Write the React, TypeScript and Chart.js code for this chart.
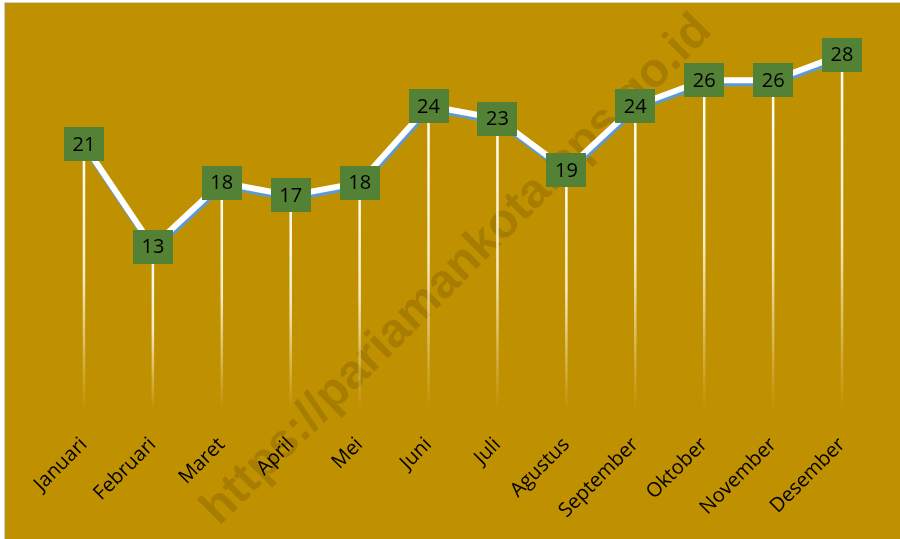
import React, { useEffect, useRef } from "react";
import { Chart, registerables } from "chart.js";

Chart.register(...registerables);

const months = [
  "Januari", "Februari", "Maret", "April", "Mei", "Juni",
  "Juli", "Agustus", "September", "Oktober", "November", "Desember",
];
const values = [21, 13, 18, 17, 18, 24, 23, 19, 24, 26, 26, 28];
const watermarkText = "https://pariamankota.bps.go.id";

const GOLD = "#BF9000";
const GREEN = "#538135";
const BLUE = "#5B9BD5";

const framePlugin = {
  id: "frame",
  beforeDraw(chart: any) {
    const { ctx, width, height } = chart;
    ctx.save();
    ctx.fillStyle = "#ffffff";
    ctx.fillRect(0, 0, width, height);
    ctx.fillStyle = GOLD;
    ctx.fillRect(5, 3, width - 5, height - 3);
    ctx.strokeStyle = "#d0d0d0";
    ctx.lineWidth = 1;
    ctx.beginPath();
    ctx.moveTo(4.5, height);
    ctx.lineTo(4.5, 2.5);
    ctx.lineTo(width, 2.5);
    ctx.stroke();
    // watermark
    ctx.translate(457, 270);
    ctx.rotate(-Math.PI / 4);
    ctx.font = "bold 48px 'Liberation Sans', Arial, sans-serif";
    ctx.textAlign = "center";
    ctx.textBaseline = "middle";
    ctx.fillStyle = "rgba(0,0,0,0.13)";
    ctx.fillText(watermarkText, 0, 0);
    ctx.restore();
  },
  beforeDatasetsDraw(chart: any) {
    const { ctx, chartArea } = chart;
    const meta = chart.getDatasetMeta(0);
    ctx.save();
    const bottom = chartArea.bottom - 3;
    meta.data.forEach((pt: any) => {
      const g = ctx.createLinearGradient(0, pt.y, 0, bottom);
      g.addColorStop(0, "rgba(255,255,255,1)");
      g.addColorStop(0.5, "rgba(255,246,220,0.9)");
      g.addColorStop(1, "rgba(255,240,200,0)");
      ctx.strokeStyle = g;
      ctx.lineWidth = 2.5;
      ctx.beginPath();
      ctx.moveTo(pt.x, pt.y);
      ctx.lineTo(pt.x, bottom);
      ctx.stroke();
    });
    ctx.restore();
  },
  beforeDatasetDraw(chart: any) {
    const ctx = chart.ctx;
    ctx.save();
    ctx.shadowColor = BLUE;
    ctx.shadowOffsetX = 1;
    ctx.shadowOffsetY = 3;
    ctx.shadowBlur = 0;
  },
  afterDatasetDraw(chart: any) {
    chart.ctx.restore();
  },
  afterDatasetsDraw(chart: any) {
    const { ctx } = chart;
    const meta = chart.getDatasetMeta(0);
    ctx.save();
    ctx.font = "20px 'Open Sans', sans-serif";
    ctx.textAlign = "center";
    ctx.textBaseline = "middle";
    meta.data.forEach((pt: any, i: number) => {
      const w = 40, h = 34;
      ctx.fillStyle = GREEN;
      ctx.fillRect(Math.round(pt.x - w / 2), Math.round(pt.y - h / 2), w, h);
      ctx.fillStyle = "#000000";
      ctx.fillText(String(values[i]), pt.x, pt.y + 1);
    });
    ctx.restore();
  },
};

export default function App() {
  const ref = useRef<HTMLCanvasElement | null>(null);
  useEffect(() => {
    if (!ref.current) return;
    const chart = new Chart(ref.current, {
      type: "line",
      data: {
        labels: months,
        datasets: [
          {
            data: values,
            borderColor: "#ffffff",
            borderWidth: 6,
            pointRadius: 0,
            tension: 0,
            fill: false,
          },
        ],
      },
      options: {
        responsive: false,
        animation: false,
        layout: { padding: { left: 49.5, right: 23.5, top: 29, bottom: 0 } },
        plugins: { legend: { display: false }, tooltip: { enabled: false } },
        scales: {
          x: {
            offset: true,
            grid: { display: false, drawTicks: false },
            border: { display: false },
            ticks: {
              color: "#000000",
              font: { family: "'Open Sans', sans-serif", size: 20 },
              minRotation: 45,
              maxRotation: 45,
              padding: 20,
              autoSkip: false,
            },
            afterFit: (scale: any) => {
              scale.height = 126;
              scale.paddingLeft = 0;
              scale.paddingRight = 0;
            },
          },
          y: { display: false, min: 0, max: 30 },
        },
      },
      plugins: [framePlugin],
    });
    return () => chart.destroy();
  }, []);
  return (
    <div style={{ position: "fixed", left: 0, top: 0, width: 900, height: 539 }}>
      <canvas ref={ref} width={900} height={539} style={{ display: "block" }} />
    </div>
  );
}
